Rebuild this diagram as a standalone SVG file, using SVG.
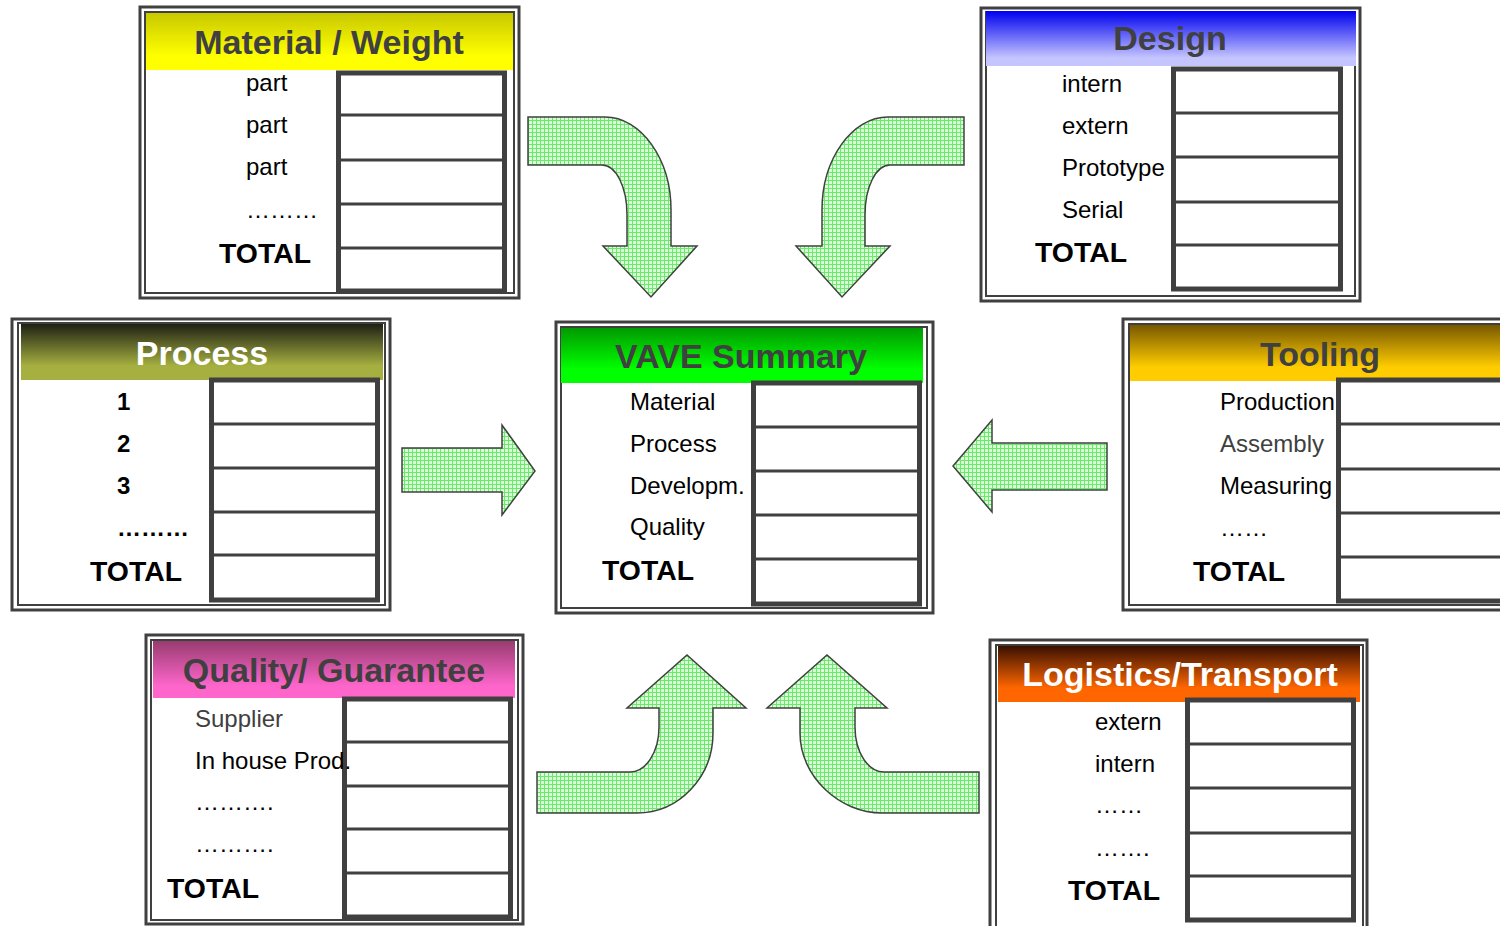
<svg xmlns="http://www.w3.org/2000/svg" width="1500" height="926" viewBox="0 0 1500 926">
<defs>
<style>
.o{fill:none;stroke:#404040;stroke-width:3}
.i{fill:#fff;stroke:#404040;stroke-width:2}
.t{fill:#fff;stroke:#404040;stroke-width:5}
.r{stroke:#404040;stroke-width:3}
.h{font-family:"Liberation Sans",Arial,sans-serif;font-weight:bold;font-size:34px;text-anchor:middle;fill:#404040}
.hw{fill:#fff}
.l{font-family:"Liberation Sans",Arial,sans-serif;font-size:24px;fill:#000}
.g{fill:#404040}
.b{font-weight:bold}
.tot{font-family:"Liberation Sans",Arial,sans-serif;font-size:28.4px;font-weight:bold;fill:#000}
.arr{fill:url(#grid);stroke:#404040;stroke-width:1.5;stroke-linejoin:miter}
</style>
<pattern id="grid" width="4" height="4" patternUnits="userSpaceOnUse">
<rect width="4" height="4" fill="#dcfcdc"/>
<path d="M0 0.5H4M0.5 0V4" stroke="#66ec66" stroke-width="1"/>
</pattern>
<linearGradient id="gY" x1="0" y1="0" x2="0" y2="1"><stop offset="0" stop-color="#c8c800"/><stop offset="0.75" stop-color="#ffff00"/></linearGradient>
<linearGradient id="gB" x1="0" y1="0" x2="0" y2="1"><stop offset="0" stop-color="#0000f0"/><stop offset="0.85" stop-color="#c4c4ff"/></linearGradient>
<linearGradient id="gP" x1="0" y1="0" x2="0" y2="1"><stop offset="0" stop-color="#1e2014"/><stop offset="0.75" stop-color="#a6b040"/></linearGradient>
<linearGradient id="gT" x1="0" y1="0" x2="0" y2="1"><stop offset="0" stop-color="#785800"/><stop offset="0.75" stop-color="#ffcc00"/></linearGradient>
<linearGradient id="gV" x1="0" y1="0" x2="0" y2="1"><stop offset="0" stop-color="#009a00"/><stop offset="0.75" stop-color="#00ff00"/></linearGradient>
<linearGradient id="gQ" x1="0" y1="0" x2="0" y2="1"><stop offset="0" stop-color="#983c70"/><stop offset="0.8" stop-color="#ff66cc"/></linearGradient>
<linearGradient id="gL" x1="0" y1="0" x2="0" y2="1"><stop offset="0" stop-color="#381000"/><stop offset="0.75" stop-color="#ff6600"/></linearGradient>
</defs>
<rect width="1500" height="926" fill="#fff"/>

<g id="connectors">
<path class="arr" d="M528,117 L605,117 C641,117 671,159 671,210 L671,246 L697,246 L651,297 L603,246 L627,246 L627,215 C627,187 616,165 602,165 L528,165 Z"/>
<path class="arr" d="M964,117 L888,117 C852,117 822,159 822,210 L822,246 L796,246 L842,297 L890,246 L865,246 L865,215 C865,187 876,165 890,165 L964,165 Z"/>
<path class="arr" d="M402,448 L502,448 L502,425 L535,471 L502,515 L502,492 L402,492 Z"/>
<path class="arr" d="M1107,443 L992,443 L992,420 L953,466 L992,512 L992,490 L1107,490 Z"/>
<path class="arr" d="M537,813 L637,813 C679,813 713,777 713,733 L713,708 L746,708 L687,655 L627,708 L659,708 L659,727 C659,752 646,772 630,772 L537,772 Z"/>
<path class="arr" d="M979,813 L882,813 C840,813 800,777 800,733 L800,708 L767,708 L827,655 L887,708 L855,708 L855,727 C855,752 868,772 884,772 L979,772 Z"/>
</g>

<g id="material">
<rect class="o" x="140" y="7" width="379" height="291"/>
<rect class="i" x="145" y="12" width="369" height="281"/>
<rect x="146" y="13" width="367" height="57" fill="url(#gY)"/>
<text class="h" x="329" y="54">Material / Weight</text>
<rect class="t" x="338.5" y="73" width="166" height="218"/>
<path class="r" d="M338,115H504M338,160H504M338,204H504M338,248H504"/>
<text class="l" x="246" y="91">part</text>
<text class="l" x="246" y="133">part</text>
<text class="l" x="246" y="175">part</text>
<text class="l" x="246" y="218">………</text>
<text class="tot" x="219" y="263">TOTAL</text>
</g>

<g id="design">
<rect class="o" x="981" y="8" width="379" height="293"/>
<rect class="i" x="986" y="12" width="369" height="284"/>
<rect x="986" y="11" width="370" height="55" fill="url(#gB)"/>
<text class="h" x="1170" y="50">Design</text>
<rect class="t" x="1173.5" y="69" width="167" height="220"/>
<path class="r" d="M1173,113H1340M1173,157H1340M1173,202H1340M1173,245H1340"/>
<text class="l" x="1062" y="92">intern</text>
<text class="l" x="1062" y="134">extern</text>
<text class="l" x="1062" y="176">Prototype</text>
<text class="l" x="1062" y="218">Serial</text>
<text class="tot" x="1035" y="262">TOTAL</text>
</g>

<g id="process">
<rect class="o" x="12" y="319" width="378" height="291"/>
<rect class="i" x="18" y="323" width="367" height="282"/>
<rect x="21" y="324" width="362" height="56" fill="url(#gP)"/>
<text class="h hw" x="202" y="365">Process</text>
<rect class="t" x="211.5" y="380" width="166" height="220"/>
<path class="r" d="M211,424H377M211,468H377M211,512H377M211,555H377"/>
<text class="l b" x="117" y="410">1</text>
<text class="l b" x="117" y="452">2</text>
<text class="l b" x="117" y="494">3</text>
<text class="l b" x="117" y="536">………</text>
<text class="tot" x="90" y="581">TOTAL</text>
</g>

<g id="tooling">
<rect class="o" x="1123" y="319" width="400" height="291"/>
<rect class="i" x="1129" y="324" width="400" height="281"/>
<rect x="1130" y="325" width="380" height="56" fill="url(#gT)"/>
<text class="h" x="1320" y="366">Tooling</text>
<rect class="t" x="1338.5" y="380" width="200" height="221"/>
<path class="r" d="M1338,424H1500M1338,469H1500M1338,513H1500M1338,557H1500"/>
<text class="l" x="1220" y="410">Production</text>
<text class="l g" x="1220" y="452">Assembly</text>
<text class="l" x="1220" y="494">Measuring</text>
<text class="l" x="1220" y="536">……</text>
<text class="tot" x="1193" y="581">TOTAL</text>
</g>

<g id="vave">
<rect class="o" x="556" y="322" width="377" height="291"/>
<rect class="i" x="561" y="327" width="366" height="281"/>
<rect x="561" y="328" width="362" height="55" fill="url(#gV)"/>
<text class="h" x="741" y="368">VAVE Summary</text>
<rect class="t" x="753.5" y="383" width="166" height="221"/>
<path class="r" d="M753,427H919M753,471H919M753,515H919M753,559H919"/>
<text class="l" x="630" y="410">Material</text>
<text class="l" x="630" y="452">Process</text>
<text class="l" x="630" y="494">Developm.</text>
<text class="l" x="630" y="535">Quality</text>
<text class="tot" x="602" y="580">TOTAL</text>
</g>

<g id="quality">
<rect class="o" x="146" y="635" width="377" height="289"/>
<rect class="i" x="151" y="640" width="367" height="280"/>
<rect x="153" y="641" width="362" height="57" fill="url(#gQ)"/>
<text class="h" x="334" y="682">Quality/ Guarantee</text>
<rect class="t" x="344.5" y="699" width="166" height="218"/>
<path class="r" d="M344,742H510M344,786H510M344,829H510M344,873H510"/>
<text class="l g" x="195" y="727">Supplier</text>
<text class="l" x="195" y="769">In house Prod.</text>
<text class="l" x="195" y="810">……….</text>
<text class="l" x="195" y="852">……….</text>
<text class="tot" x="167" y="898">TOTAL</text>
</g>

<g id="logistics">
<rect class="o" x="990" y="640" width="377" height="300"/>
<rect class="i" x="996" y="645" width="367" height="300"/>
<rect x="998" y="646" width="362" height="56" fill="url(#gL)"/>
<text class="h hw" x="1180" y="686">Logistics/Transport</text>
<rect class="t" x="1187.5" y="700" width="166" height="220"/>
<path class="r" d="M1187,744H1353M1187,788H1353M1187,833H1353M1187,876H1353"/>
<text class="l" x="1095" y="730">extern</text>
<text class="l" x="1095" y="772">intern</text>
<text class="l" x="1095" y="813">……</text>
<text class="l" x="1095" y="856">…….</text>
<text class="tot" x="1068" y="900">TOTAL</text>
</g>
</svg>
